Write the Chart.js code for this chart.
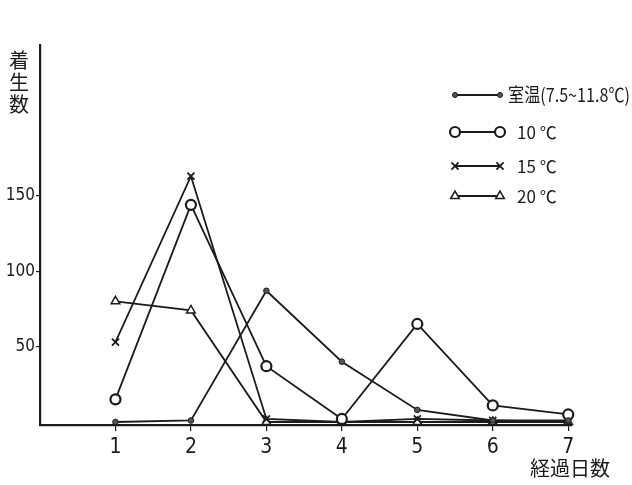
<!DOCTYPE html>
<html>
<head>
<meta charset="utf-8">
<script src="https://cdn.jsdelivr.net/npm/chart.js@4.4.1/dist/chart.umd.min.js"></script>
<style>
  html, body { margin: 0; padding: 0; background: #fff; }
  #wrap { width: 632px; height: 485px; }
</style>
</head>
<body>
<div id="wrap"><canvas id="chart" width="632" height="485"></canvas></div>
<script>
const days = [1, 2, 3, 4, 5, 6, 7];
const roomTemp = [0, 1, 87, 40, 8, 1, 1];
const temp10 = [15, 144, 37, 2, 65, 11, 5];
const temp15 = [53, 163, 2, 0, 2, 1, 0];
const temp20 = [80, 74, 0, 0, 0, 0, 0];
const yTicks = [50, 100, 150];
const seriesLabels = ["室温(7.5~11.8℃)", "10 ℃", "15 ℃", "20 ℃"];
const yTitle = ["着", "生", "数"];
const xTitle = "経過日数";

const ink = "#1b1b1b";
const narrow = "'Liberation Sans Narrow', 'DejaVu Sans Condensed', sans-serif";
const cjk = "'Noto Sans CJK JP', sans-serif";

const styles = [
  { pointStyle: "circle", radius: 2.8, fill: "#555", borderWidth: 1 },
  { pointStyle: "circle", radius: 5, fill: "#fff", borderWidth: 2.2 },
  { pointStyle: "crossRot", radius: 5, fill: "#fff", borderWidth: 1.8 },
  { pointStyle: "triangle", radius: 5, fill: "#fff", borderWidth: 1.5 },
];

function toXY(values) {
  return values.map((v, i) => ({ x: days[i], y: v }));
}

const seriesData = [roomTemp, temp10, temp15, temp20];

const datasets = seriesData.map((values, i) => ({
  label: seriesLabels[i],
  data: toXY(values),
  borderColor: ink,
  borderWidth: 1.8,
  pointStyle: styles[i].pointStyle,
  pointRadius: styles[i].radius,
  pointBackgroundColor: styles[i].fill,
  pointBorderColor: ink,
  pointBorderWidth: styles[i].borderWidth,
  tension: 0,
  clip: false,
}));

// legend with a marker at both ends of the line, plus the axis titles
const annotations = {
  id: "annotations",
  afterDraw(chart) {
    const ctx = chart.ctx;
    ctx.save();
    const rows = [95, 132, 166, 196];
    rows.forEach((y, i) => {
      ctx.strokeStyle = ink;
      ctx.lineWidth = 1.8;
      ctx.beginPath();
      ctx.moveTo(455, y);
      ctx.lineTo(500, y);
      ctx.stroke();
      [455, 500].forEach((x) => {
        ctx.fillStyle = styles[i].fill;
        ctx.strokeStyle = ink;
        ctx.lineWidth = styles[i].borderWidth;
        Chart.helpers.drawPoint(ctx, {
          pointStyle: styles[i].pointStyle,
          radius: i === 0 ? 2.5 : styles[i].radius,
          rotation: 0,
          borderWidth: styles[i].borderWidth,
        }, x, y);
      });
      ctx.fillStyle = ink;
      ctx.textBaseline = "middle";
      ctx.textAlign = "left";
      if (i === 0) {
        ctx.font = "19px " + cjk;
        ctx.fillText(seriesLabels[i], 508, y, 122);
      } else {
        ctx.font = "17px " + cjk;
        ctx.fillText(seriesLabels[i], 517, y + 1);
      }
    });

    ctx.fillStyle = ink;
    ctx.font = "20px " + cjk;
    ctx.textAlign = "center";
    ctx.textBaseline = "middle";
    yTitle.forEach((ch, i) => {
      ctx.fillText(ch, 19, 60 + i * 22);
    });
    ctx.fillText(xTitle, 570, 468);
    ctx.restore();
  },
};

new Chart(document.getElementById("chart"), {
  type: "line",
  data: { datasets },
  options: {
    responsive: false,
    animation: false,
    layout: { padding: { left: 0, top: 45, right: 60, bottom: 0 } },
    plugins: {
      legend: { display: false },
      tooltip: { enabled: false },
    },
    scales: {
      x: {
        type: "linear",
        min: 0,
        max: 7.05,
        afterBuildTicks: (scale) => {
          scale.ticks = days.map((d) => ({ value: d }));
        },
        afterFit: (scale) => {
          scale.height = 60;
        },
        border: { display: true, color: ink, width: 2.2 },
        grid: { drawOnChartArea: false, tickLength: 6, color: ink, lineWidth: 1.2 },
        ticks: {
          color: ink,
          padding: 4,
          maxRotation: 0,
          font: { family: narrow, size: 21 },
          callback: (v) => String(v),
        },
      },
      y: {
        type: "linear",
        min: -2,
        max: 250,
        afterBuildTicks: (scale) => {
          scale.ticks = yTicks.map((v) => ({ value: v }));
        },
        afterFit: (scale) => {
          scale.width = 40;
        },
        border: { display: true, color: ink, width: 2.2 },
        grid: { drawOnChartArea: false, tickLength: 4, color: ink, lineWidth: 1.2 },
        ticks: {
          color: ink,
          padding: 1,
          font: { family: narrow, size: 17 },
          callback: (v) => String(v),
        },
      },
    },
  },
  plugins: [annotations],
});
</script>
</body>
</html>
